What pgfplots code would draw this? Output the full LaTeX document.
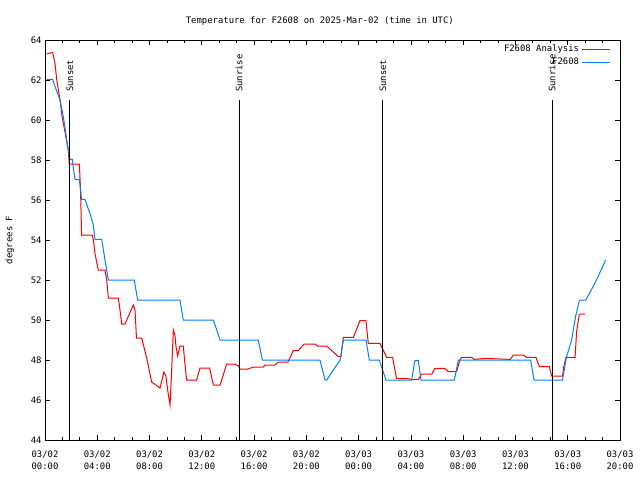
\documentclass[border=0pt]{standalone}
\usepackage{fontspec}
\setmainfont{DejaVu Sans Mono}
\usepackage{pgfplots}
\pgfplotsset{compat=1.18}
\definecolor{ana}{RGB}{255,0,0}
\definecolor{obs}{RGB}{0,128,255}
\begin{document}
\begin{tikzpicture}[font=\fontsize{8.9pt}{12pt}\selectfont]
\begin{axis}[
  scale only axis, width=575pt, height=400pt,
  xmin=0, xmax=44, ymin=44, ymax=64,
  xtick={0,4,8,12,16,20,24,28,32,36,40,44},
  xticklabels={{03/02\\00:00},{03/02\\04:00},{03/02\\08:00},{03/02\\12:00},{03/02\\16:00},{03/02\\20:00},{03/03\\00:00},{03/03\\04:00},{03/03\\08:00},{03/03\\12:00},{03/03\\16:00},{03/03\\20:00}},
  xticklabel style={align=center, yshift=-7pt},
  minor x tick num=2,
  ytick={44,46,...,64},
  /pgf/number format/assume math mode=true,
  tick align=inside,
  major tick length=5pt, minor tick length=3pt,
  tick style={black, line width=0.8pt},
  axis line style={line width=0.8pt},
  title={Temperature for F2608 on 2025-Mar-02 (time in UTC)},
  title style={at={(axis description cs:0.478,1.033)}, anchor=center},
  ylabel={degrees F},
  ylabel style={at={(axis description cs:-0.061,0.5)}, anchor=center},
  legend style={at={(axis description cs:0.983,0.993)}, anchor=north east, draw=none, fill=none, inner sep=0pt, row sep=1pt, legend cell align=right},
  legend plot pos=right,
  legend image code/.code={\draw[#1] (0pt,0pt) -- (28pt,0pt);},
]
\addplot[ana, line width=1pt] coordinates {
(0.13,63.3) (0.59,63.38) (0.77,62.8) (0.9,62.0) (1.15,61.0) (1.3,60.2) (1.5,59.5) (1.78,58.5)
(1.86,57.8) (2.63,57.8) (2.72,56.5) (2.8,54.25) (3.62,54.25) (3.7,54.0) (3.83,53.3) (4.08,52.5) (4.59,52.5)
(4.72,52.0) (4.85,51.1) (5.61,51.1) (5.74,50.5) (5.87,49.8) (6.12,49.8) (6.76,50.75) (6.89,50.5)
(7.0,49.1) (7.4,49.1) (7.78,48.1) (8.16,46.9) (8.8,46.6) (9.1,47.4) (9.25,47.2) (9.43,46.3)
(9.57,45.75) (9.7,47.6) (9.82,49.5) (9.95,49.2) (10.02,48.7) (10.15,48.2) (10.33,48.7) (10.58,48.7)
(10.71,47.8) (10.84,47.0) (11.6,47.0) (11.86,47.6) (12.6,47.6) (12.88,46.75) (13.4,46.75) (13.9,47.8)
(14.5,47.8) (14.8,47.7) (14.92,47.55) (15.55,47.55) (15.94,47.65) (16.7,47.65) (16.84,47.75) (17.6,47.75)
(17.85,47.9) (18.6,47.9) (19.0,48.47) (19.38,48.47) (19.82,48.8) (20.66,48.8) (20.84,48.7) (21.55,48.7)
(22.45,48.17) (22.64,48.17) (22.83,49.13) (23.6,49.13) (24.1,49.97) (24.56,49.97) (24.74,48.83) (25.63,48.83)
(26.15,48.13) (26.6,48.13) (26.9,47.08) (27.68,47.08) (28.06,47.03) (28.57,47.03) (28.82,47.3) (29.6,47.3)
(29.84,47.58) (30.6,47.58) (30.86,47.42) (31.5,47.42) (31.75,48.0) (31.88,48.13) (32.65,48.13) (32.85,48.03)
(33.67,48.08) (35.6,48.03) (35.84,48.25) (36.6,48.25) (36.84,48.13) (37.57,48.13) (37.83,47.67) (38.59,47.67)
(38.77,47.2) (39.6,47.2) (39.7,47.67) (39.87,48.13) (40.56,48.13) (40.68,49.42) (40.89,50.3) (41.32,50.3)
};
\addlegendentry{F2608 Analysis}
\addplot[obs, line width=1pt] coordinates {
(0.13,62.03) (0.59,62.03) (0.77,61.67) (1.15,61.0) (1.4,60.17) (1.61,59.25) (1.78,58.5) (1.91,58.03)
(2.09,58.03) (2.17,57.6) (2.3,57.03) (2.63,57.03) (2.8,56.03) (3.06,56.03) (3.44,55.33) (3.7,54.75)
(3.83,54.03) (4.34,54.03) (4.59,53.0) (4.85,52.0) (6.83,52.0) (7.09,51.0) (10.33,51.0) (10.58,50.0)
(12.88,50.0) (13.4,49.0) (16.32,49.0) (16.63,48.0) (21.04,48.0) (21.43,47.0) (21.56,47.0) (22.58,48.0)
(22.83,49.0) (24.56,49.0) (24.82,48.0) (25.58,48.0) (26.09,47.0) (28.06,47.0) (28.3,47.97) (28.57,47.97)
(28.77,47.0) (31.32,47.0) (31.63,48.0) (37.16,48.0) (37.42,47.0) (39.6,47.0) (39.9,48.13) (40.3,49.0)
(40.6,50.17) (40.9,51.0) (41.39,51.0) (42.2,52.0) (42.9,53.0)
};
\addlegendentry{F2608}
\addplot[black, line width=1pt, forget plot] coordinates {(1.91,44) (1.91,61)};
\addplot[black, line width=1pt, forget plot] coordinates {(14.85,44) (14.85,61)};
\addplot[black, line width=1pt, forget plot] coordinates {(25.86,44) (25.86,61)};
\addplot[black, line width=1pt, forget plot] coordinates {(38.8,44) (38.8,61)};
\node[rotate=90, anchor=west, inner sep=0pt] at (axis cs:1.91,61.4) {Sunset};
\node[rotate=90, anchor=west, inner sep=0pt] at (axis cs:14.85,61.4) {Sunrise};
\node[rotate=90, anchor=west, inner sep=0pt] at (axis cs:25.86,61.4) {Sunset};
\node[rotate=90, anchor=west, inner sep=0pt] at (axis cs:38.8,61.4) {Sunrise};
\end{axis}
\path (current axis.south west) ++(-45pt,-40pt) rectangle ++(640pt,480pt);
\end{tikzpicture}
\end{document}
